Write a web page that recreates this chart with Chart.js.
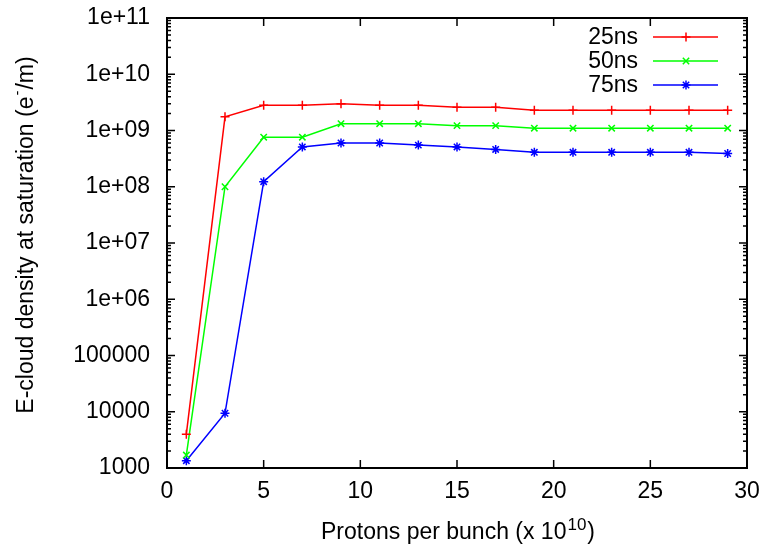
<!DOCTYPE html>
<html>
<head>
<meta charset="utf-8">
<script src="https://cdn.jsdelivr.net/npm/chart.js@4"></script>
<style>
  body { margin: 0; background: #fff; }
  canvas { display: block; }
</style>
</head>
<body>
<canvas id="cloudChart" width="763" height="545"></canvas>
<script>
// protons per bunch (x 1e10)
const protons = [1, 3, 5, 7, 9, 11, 13, 15, 17, 19, 21, 23, 25, 27, 29];
const ns25 = [4000, 1.75e9, 2.8e9, 2.8e9, 3.0e9, 2.8e9, 2.8e9, 2.6e9, 2.6e9, 2.3e9, 2.3e9, 2.3e9, 2.3e9, 2.3e9, 2.3e9];
const ns50 = [1700, 1.0e8, 7.6e8, 7.6e8, 1.32e9, 1.32e9, 1.32e9, 1.22e9, 1.22e9, 1.1e9, 1.1e9, 1.1e9, 1.1e9, 1.1e9, 1.1e9];
const ns75 = [1350, 9400, 1.23e8, 5.1e8, 6.0e8, 6.0e8, 5.5e8, 5.1e8, 4.6e8, 4.1e8, 4.1e8, 4.1e8, 4.1e8, 4.1e8, 3.9e8];
const yTicks = [1e3, 1e4, 1e5, 1e6, 1e7, 1e8, 1e9, 1e10, 1e11];
const yTickLabels = ['1000', '10000', '100000', '1e+06', '1e+07', '1e+08', '1e+09', '1e+10', '1e+11'];
const xTicks = [0, 5, 10, 15, 20, 25, 30];

const FONT = 'Liberation Sans, Arial, Helvetica, sans-serif';
const FS = 23;

function toPoints(vals) {
  return protons.map((p, i) => ({ x: p, y: vals[i] }));
}

// gnuplot style frame with inward ticks on all sides
const frameTicks = {
  id: 'frameTicks',
  afterDraw(chart) {
    const { ctx, chartArea: a, scales } = chart;
    ctx.save();
    ctx.strokeStyle = '#000';
    ctx.lineWidth = 2;
    ctx.strokeRect(a.left, a.top, a.right - a.left, a.bottom - a.top);
    ctx.lineWidth = 1.5;
    ctx.beginPath();
    xTicks.forEach(v => {
      const x = scales.x.getPixelForValue(v);
      ctx.moveTo(x, a.bottom); ctx.lineTo(x, a.bottom - 8);
      ctx.moveTo(x, a.top); ctx.lineTo(x, a.top + 8);
    });
    yTicks.forEach((v, i) => {
      const y = scales.y.getPixelForValue(v);
      ctx.moveTo(a.left, y); ctx.lineTo(a.left + 8, y);
      ctx.moveTo(a.right, y); ctx.lineTo(a.right - 8, y);
      if (i < yTicks.length - 1) {
        for (let m = 2; m <= 9; m++) {
          const ym = scales.y.getPixelForValue(v * m);
          ctx.moveTo(a.left, ym); ctx.lineTo(a.left + 4, ym);
          ctx.moveTo(a.right, ym); ctx.lineTo(a.right - 4, ym);
        }
      }
    });
    ctx.stroke();
    ctx.restore();
  }
};

// axis titles, drawn by hand to get the superscripts right
const axisTitles = {
  id: 'axisTitles',
  afterDraw(chart) {
    const { ctx, chartArea: a } = chart;
    ctx.save();
    ctx.fillStyle = '#000';
    ctx.textBaseline = 'alphabetic';
    // x title
    const base = 'Protons per bunch (x 10';
    ctx.font = FS + 'px ' + FONT;
    const w1 = ctx.measureText(base).width;
    ctx.font = '17px ' + FONT;
    const w2 = ctx.measureText('10').width;
    ctx.font = FS + 'px ' + FONT;
    const w3 = ctx.measureText(')').width;
    let x = (a.left + a.right) / 2 - (w1 + w2 + w3) / 2;
    ctx.textAlign = 'left';
    ctx.fillText(base, x, 539);
    ctx.font = '17px ' + FONT;
    ctx.fillText('10', x + w1 + 1, 530);
    ctx.font = FS + 'px ' + FONT;
    ctx.fillText(')', x + w1 + w2 + 2, 539);
    // y title, rotated
    ctx.translate(33, 235);
    ctx.rotate(-Math.PI / 2);
    const p1 = 'E-cloud density at saturation (e';
    const p3 = '/m)';
    ctx.font = FS + 'px ' + FONT;
    const a1 = ctx.measureText(p1).width;
    const a3 = ctx.measureText(p3).width;
    ctx.font = '15px ' + FONT;
    const a2 = ctx.measureText('-').width + 2;
    let sx = -(a1 + a2 + a3) / 2;
    ctx.font = FS + 'px ' + FONT;
    ctx.fillText(p1, sx, 0);
    ctx.font = '15px ' + FONT;
    ctx.fillText('-', sx + a1 + 1, -11);
    ctx.font = FS + 'px ' + FONT;
    ctx.fillText(p3, sx + a1 + a2, 0);
    ctx.restore();
  }
};

// legend: right-aligned label, then line sample with marker
const keyBox = {
  id: 'keyBox',
  afterDraw(chart) {
    const ctx = chart.ctx;
    ctx.save();
    ctx.font = FS + 'px ' + FONT;
    ctx.textAlign = 'right';
    ctx.textBaseline = 'middle';
    chart.data.datasets.forEach((ds, i) => {
      const y = 37 + i * 24;
      ctx.fillStyle = '#000';
      ctx.fillText(ds.label, 638, y + 1);
      ctx.strokeStyle = ds.borderColor;
      ctx.lineWidth = 1.5;
      ctx.beginPath();
      ctx.moveTo(653, y); ctx.lineTo(718, y);
      ctx.stroke();
      ctx.strokeStyle = ds.borderColor;
      ctx.fillStyle = ds.borderColor;
      Chart.helpers.drawPoint(ctx, {
        pointStyle: ds.pointStyle,
        radius: ds.pointRadius,
        borderWidth: ds.pointBorderWidth,
        rotation: 0
      }, 686, y);
    });
    ctx.restore();
  }
};

function series(label, color, style, vals) {
  return {
    label,
    data: toPoints(vals),
    borderColor: color,
    backgroundColor: color,
    borderWidth: 1.5,
    pointStyle: style,
    pointRadius: 4.5,
    pointBorderWidth: 1.5,
    pointBorderColor: color,
    tension: 0
  };
}

new Chart(document.getElementById('cloudChart'), {
  type: 'line',
  data: {
    datasets: [
      series('25ns', '#ff0000', 'cross', ns25),
      series('50ns', '#00ff00', 'crossRot', ns50),
      series('75ns', '#0000ff', 'star', ns75)
    ]
  },
  options: {
    responsive: false,
    animation: false,
    layout: { padding: { left: 0, right: 16, top: 18, bottom: 0 } },
    plugins: { legend: { display: false }, tooltip: { enabled: false } },
    scales: {
      x: {
        type: 'linear', min: 0, max: 30,
        grid: { display: false, drawTicks: false },
        border: { display: false },
        ticks: { stepSize: 5, padding: 10, color: '#000', font: { family: FONT, size: FS }, maxRotation: 0 },
        afterBuildTicks: s => { s.ticks = xTicks.map(v => ({ value: v })); },
        afterFit: s => { s.height = 77; s.paddingLeft = 0; s.paddingRight = 0; }
      },
      y: {
        type: 'logarithmic', min: 1000, max: 1e11,
        grid: { display: false, drawTicks: false },
        border: { display: false },
        ticks: {
          padding: 17, color: '#000', font: { family: FONT, size: FS },
          callback: v => yTickLabels[yTicks.indexOf(v)]
        },
        afterBuildTicks: s => { s.ticks = yTicks.map(v => ({ value: v })); },
        afterFit: s => { s.width = 167; s.paddingTop = 0; s.paddingBottom = 0; }
      }
    }
  },
  plugins: [frameTicks, axisTitles, keyBox]
});
</script>
</body>
</html>
